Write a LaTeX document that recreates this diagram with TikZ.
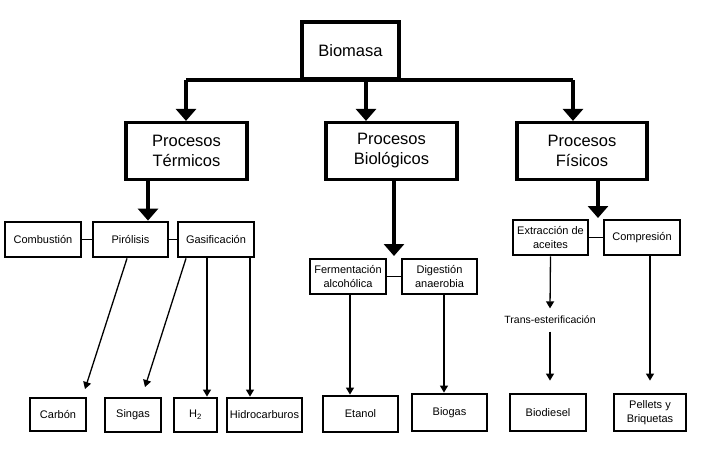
\documentclass[tikz,border=0pt]{standalone}
\usepackage{fontspec}
\setmainfont{Liberation Sans}
\usetikzlibrary{arrows.meta}
\begin{document}
\begin{tikzpicture}[x=1pt,y=-1pt,
mainbox/.style={draw,line width=3.2pt,align=center,inner sep=2pt,minimum height=57pt,font=\fontsize{16.5}{20}\selectfont},
subbox/.style={draw,line width=2.8pt,align=center,inner sep=2pt,minimum height=35pt,font=\fontsize{11}{13.3}\selectfont},
fat/.style={line width=4.5pt,-{Triangle[width=20pt,length=12pt]}},
lead/.style={line width=1.3pt,-{Triangle[width=8pt,length=7pt]}}]
\useasboundingbox (0,0) rectangle (705,448);

\node[mainbox,minimum width=97pt] (bio) at (350.5,50.5) {Biomasa};
\node[mainbox,minimum width=121pt] (ter) at (186.5,151) {Procesos\\Térmicos};
\node[mainbox,minimum width=131pt] (bpr) at (391.5,151) {Procesos\\Biológicos};
\node[mainbox,minimum width=130pt] (fis) at (582,151) {Procesos\\Físicos};

\node[subbox,minimum width=76pt] (com) at (43,239.5) {Combustión};
\node[subbox,minimum width=75pt] (pir) at (130.5,239.5) {Pirólisis};
\node[subbox,minimum width=76pt] (gas) at (216,239.5) {Gasificación};
\node[subbox,minimum width=76pt] (fer) at (348,276.5) {Fermentación\\alcohólica};
\node[subbox,minimum width=75pt] (dig) at (439.5,276.5) {Digestión\\anaerobia};
\node[subbox,minimum width=75pt] (ext) at (550.5,237.5) {Extracción de\\aceites};
\node[subbox,minimum width=76pt] (cmp) at (642,237.5) {Compresión};
\node[font=\fontsize{10.5}{13}\selectfont,inner sep=7.5pt] (tra) at (550,320) {Trans-esterificación};

\node[subbox,minimum width=56pt,minimum height=33pt] (car) at (58,414.5) {Carbón};
\node[subbox,minimum width=56pt,minimum height=34pt] (sin) at (133,415) {Singas};
\node[subbox,minimum width=43pt,minimum height=34pt] (hid2) at (195.5,415) {H\textsubscript{2}};
\node[subbox,minimum width=75pt,minimum height=34pt] (hcb) at (264.5,415) {Hidrocarburos};
\node[subbox,minimum width=75pt,minimum height=36pt] (eta) at (360.5,414) {Etanol};
\node[subbox,minimum width=75pt,minimum height=37pt] (bgs) at (449.5,412.5) {Biogas};
\node[subbox,minimum width=76pt,minimum height=37pt] (bdi) at (548,412.5) {Biodiesel};
\node[subbox,minimum width=72pt,minimum height=37pt] (pel) at (650,412.5) {Pellets y\\Briquetas};

\coordinate (busL) at (186,80);
\coordinate (busM) at (366,80);
\coordinate (busR) at (573,80);
\coordinate (bgap) at (394,256);
\coordinate (fgap) at (598,218);
\coordinate (carT) at (85,389);
\coordinate (sinT) at (145,387);

\draw[line width=3.5pt] (busL) -- (busR);
\draw[fat] (busL) -- (busL |- ter.north);
\draw[fat] (busM) -- (busM |- bpr.north);
\draw[fat] (busR) -- (busR |- fis.north);
\draw[fat] ([xshift=-38.5]ter.south) -- ([xshift=-38.5]ter.south |- pir.north);
\draw[fat] (bgap |- bpr.south) -- (bgap);
\draw[fat] (fgap |- fis.south) -- (fgap);

\draw[line width=1.3pt] (com.east) -- (pir.west);
\draw[line width=1.3pt] (pir.east) -- (gas.west);
\draw[line width=1.3pt] (fer.east) -- (dig.west);
\draw[line width=1.3pt] (ext.east) -- (cmp.west);

\draw[lead] ([xshift=-3.5]pir.south) -- (carT);
\draw[lead] ([xshift=-30]gas.south) -- (sinT);
\draw[lead] ([xshift=-9]gas.south) -- ([xshift=-9]gas.south |- hid2.north);
\draw[lead] ([xshift=34]gas.south) -- ([xshift=34]gas.south |- hcb.north);
\draw[lead] ([xshift=2]fer.south) -- ([xshift=2]fer.south |- eta.north);
\draw[lead] ([xshift=4.5]dig.south) -- ([xshift=4.5]dig.south |- bgs.north);
\draw[lead] (ext.south) -- (tra.north);
\draw[lead,shorten >=12pt] (tra.south) -- (tra.south |- bdi.north);
\draw[lead,shorten >=12pt] ([xshift=8]cmp.south) -- ([xshift=8]cmp.south |- pel.north);

\end{tikzpicture}
\end{document}
